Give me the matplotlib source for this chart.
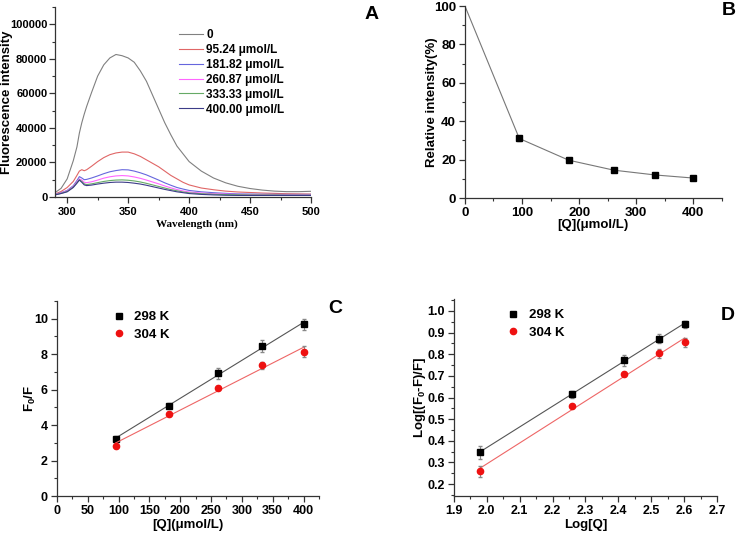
import matplotlib
matplotlib.use('Agg')
import matplotlib.pyplot as plt
import numpy as np
from matplotlib.ticker import MultipleLocator

plt.rcParams['font.family'] = ['Liberation Sans', 'DejaVu Sans']
plt.rcParams['font.weight'] = 'bold'
plt.rcParams['mathtext.fontset'] = 'custom'
plt.rcParams['mathtext.rm'] = 'Liberation Sans:bold'
plt.rcParams['mathtext.default'] = 'rm'

# ---- panel A: emission spectra ----
wl = [290, 295, 300, 305, 308, 310, 312, 314, 316, 320, 325, 330, 335, 340, 345, 350,
      355, 360, 365, 370, 375, 380, 385, 390, 395, 400, 410, 420, 430, 440, 450, 460,
      470, 480, 490, 500]
sp_0 = [2500, 5000, 10500, 21000, 29000, 37000, 43000, 48000, 52500, 60500, 70000, 76500,
        80500, 82500, 81800, 80500, 78000, 73000, 67000, 59000, 51000, 43000, 36000, 29500,
        25000, 20500, 15000, 11000, 8200, 6200, 4900, 4000, 3400, 3100, 3100, 3300]
sp_95 = [1700, 3200, 5500, 9000, 12500, 15000, 15800, 15200, 15800, 17800, 20500, 22800,
         24500, 25500, 26000, 26000, 25000, 23500, 21500, 19500, 17500, 15000, 12500, 10500,
         8500, 7000, 5200, 4200, 3400, 2900, 2600, 2300, 2100, 1900, 1800, 1700]
sp_181 = [1500, 2500, 3800, 6500, 9500, 11800, 11000, 10000, 10200, 11000, 12200, 13500,
          14600, 15300, 15800, 15700, 15000, 14000, 12800, 11300, 9800, 8200, 6800, 5500,
          4600, 3800, 3000, 2500, 2100, 1800, 1700, 1600, 1550, 1500, 1500, 1500]
sp_260 = [1400, 2300, 3500, 6000, 8700, 10500, 9800, 8500, 8300, 8800, 9800, 10900,
          11700, 12200, 12400, 12200, 11600, 10800, 9800, 8700, 7600, 6400, 5300, 4300,
          3500, 2900, 2300, 1900, 1700, 1500, 1400, 1400, 1300, 1300, 1300, 1300]
sp_333 = [1300, 2100, 3200, 5700, 8200, 10000, 9000, 7600, 7200, 7600, 8300, 9000,
          9500, 9800, 9900, 9700, 9300, 8700, 7900, 7000, 6100, 5200, 4300, 3600,
          2900, 2400, 1900, 1600, 1400, 1300, 1200, 1200, 1200, 1100, 1100, 1100]
sp_400 = [1200, 2000, 3000, 5500, 8000, 9800, 8500, 7000, 6600, 6900, 7500, 8000,
          8400, 8600, 8600, 8400, 8000, 7500, 6800, 6000, 5200, 4400, 3700, 3000,
          2500, 2000, 1500, 1200, 1000, 900, 900, 900, 900, 900, 900, 900]
sp_labels = ['0', '95.24 μmol/L', '181.82 μmol/L', '260.87 μmol/L', '333.33 μmol/L', '400.00 μmol/L']
sp_colors = ['#808080', '#e06666', '#6666dd', '#ff66ff', '#66aa66', '#3c3c88']

# ---- panel B ----
conc = [0, 95.24, 181.82, 260.87, 333.33, 400]
rel_int = [100, 31.0, 19.7, 14.5, 12.0, 10.4]
rel_err = [0, 1.5, 0.8, 0.6, 0.6, 0.5]

# ---- panel C: Stern-Volmer ----
q = [95.24, 181.82, 260.87, 333.33, 400]
f0f_298 = [3.22, 5.10, 6.92, 8.45, 9.68]
f0f_298_err = [0.15, 0.15, 0.30, 0.35, 0.30]
f0f_304 = [2.82, 4.62, 6.08, 7.37, 8.15]
f0f_304_err = [0.10, 0.10, 0.10, 0.20, 0.30]

# ---- panel D: double log ----
logq = [1.979, 2.260, 2.416, 2.523, 2.602]
dl_298 = [0.348, 0.614, 0.771, 0.872, 0.938]
dl_298_err = [0.030, 0.015, 0.025, 0.020, 0.015]
dl_304 = [0.260, 0.560, 0.708, 0.804, 0.855]
dl_304_err = [0.025, 0.010, 0.010, 0.020, 0.020]

fig = plt.figure(figsize=(7.38, 5.33), dpi=100)

def style(ax, fs, pad=2.5):
    for s in ['top', 'right']:
        ax.spines[s].set_visible(False)
    for s in ['left', 'bottom']:
        ax.spines[s].set_color('#333333')
        ax.spines[s].set_linewidth(0.9)
    ax.tick_params(which='major', direction='out', length=4, width=0.9, labelsize=fs,
                   colors='#333333', pad=pad)
    ax.tick_params(which='minor', direction='out', length=2, width=0.8, colors='#333333')
    for t in ax.get_xticklabels() + ax.get_yticklabels():
        t.set_color('black')
        t.set_fontweight('bold')

# A
axA = fig.add_axes([0.0745, 0.6304, 0.347, 0.3565])
for y, lab, c in zip([sp_0, sp_95, sp_181, sp_260, sp_333, sp_400], sp_labels, sp_colors):
    axA.plot(wl, y, color=c, lw=0.8, label=lab)
axA.set_xlim(290, 500)
axA.set_ylim(0, 110000)
axA.xaxis.set_major_locator(MultipleLocator(50))
axA.xaxis.set_minor_locator(MultipleLocator(25))
axA.yaxis.set_major_locator(MultipleLocator(20000))
axA.yaxis.set_minor_locator(MultipleLocator(10000))
style(axA, 8, pad=1.5)
axA.tick_params(axis='x', pad=3.5)
axA.set_ylabel('Fluorescence intensity', fontsize=9.5, fontweight='bold', va='center')
axA.yaxis.set_label_coords(-0.188, 0.5)
axA.set_xlabel('Wavelength (nm)', fontsize=8, fontweight='bold', family='Liberation Serif')
axA.xaxis.set_label_coords(0.555, -0.12)
axA.legend(loc='upper left', bbox_to_anchor=(0.467, 0.91), frameon=False, fontsize=8.5,
           handlelength=2.0, handletextpad=0.3, labelspacing=0.25, borderaxespad=0)
fig.text(0.503, 0.972, 'A', fontsize=14, fontweight='bold', ha='center', va='center')

# B
axB = fig.add_axes([0.630, 0.6285, 0.348, 0.3602])
axB.plot(conc, rel_int, color='#777777', lw=0.8)
axB.errorbar(conc[1:], rel_int[1:], yerr=rel_err[1:], fmt='s', ms=4,
             mfc='black', mec='black', ecolor='#888888', elinewidth=0.8, capsize=1.5)
axB.set_xlim(0, 450)
axB.set_ylim(0, 100)
axB.xaxis.set_major_locator(MultipleLocator(100))
axB.xaxis.set_minor_locator(MultipleLocator(50))
axB.yaxis.set_major_locator(MultipleLocator(20))
axB.yaxis.set_minor_locator(MultipleLocator(10))
style(axB, 9.5)
axB.set_ylabel('Relative intensity(%)', fontsize=9.5, fontweight='bold', va='center')
axB.yaxis.set_label_coords(-0.128, 0.5)
axB.set_xlabel('[Q](μmol/L)', fontsize=9.5, fontweight='bold')
axB.xaxis.set_label_coords(0.5, -0.11)
fig.text(0.987, 0.981, 'B', fontsize=14, fontweight='bold', ha='center', va='center')

# C
axC = fig.add_axes([0.0772, 0.0694, 0.355, 0.3659])
for y, e, m, c, lc, lab in [(f0f_298, f0f_298_err, 's', 'black', '#555555', '298 K'),
                            (f0f_304, f0f_304_err, 'o', '#ee1111', '#ee6666', '304 K')]:
    k, b = np.polyfit(q, y, 1)
    xx = np.array([q[0], q[-1]])
    axC.plot(xx, k * xx + b, color=lc, lw=0.8)
    axC.errorbar(q, y, yerr=e, fmt='none', ecolor='#888888', elinewidth=0.8, capsize=1.5)
    axC.plot(q, y, m, ms=4.5, mfc=c, mec=c, label=lab)
axC.set_xlim(0, 425)
axC.set_ylim(0, 11)
axC.xaxis.set_major_locator(MultipleLocator(50))
axC.xaxis.set_minor_locator(MultipleLocator(25))
axC.yaxis.set_major_locator(MultipleLocator(2))
axC.yaxis.set_minor_locator(MultipleLocator(1))
style(axC, 9)
axC.set_ylabel('F$_0$/F', fontsize=9.5, fontweight='bold', va='center')
axC.yaxis.set_label_coords(-0.103, 0.5)
axC.set_xlabel('[Q](μmol/L)', fontsize=9.5, fontweight='bold')
axC.xaxis.set_label_coords(0.5, -0.12)
axC.legend(loc='upper left', bbox_to_anchor=(0.19, 0.975), frameon=False, fontsize=9.5,
           handlelength=1, handletextpad=0.7, labelspacing=0.4, borderaxespad=0)
fig.text(0.454, 0.422, 'C', fontsize=14, fontweight='bold', ha='center', va='center')

# D
axD = fig.add_axes([0.615, 0.0694, 0.3565, 0.3696])
for y, e, m, c, lc, lab in [(dl_298, dl_298_err, 's', 'black', '#555555', '298 K'),
                            (dl_304, dl_304_err, 'o', '#ee1111', '#ee6666', '304 K')]:
    k, b = np.polyfit(logq, y, 1)
    xx = np.array([logq[0], logq[-1]])
    axD.plot(xx, k * xx + b, color=lc, lw=0.8)
    axD.errorbar(logq, y, yerr=e, fmt='none', ecolor='#888888', elinewidth=0.8, capsize=1.5)
    axD.plot(logq, y, m, ms=4.5, mfc=c, mec=c, label=lab)
axD.set_xlim(1.9, 2.7)
axD.set_ylim(0.145, 1.055)
axD.xaxis.set_major_locator(MultipleLocator(0.1))
axD.xaxis.set_minor_locator(MultipleLocator(0.05))
axD.yaxis.set_major_locator(MultipleLocator(0.1))
axD.yaxis.set_minor_locator(MultipleLocator(0.05))
style(axD, 9)
axD.set_ylabel('Log[(F$_0$-F)/F]', fontsize=9.5, fontweight='bold', va='center')
axD.yaxis.set_label_coords(-0.129, 0.5)
axD.set_xlabel('Log[Q]', fontsize=9.5, fontweight='bold')
axD.xaxis.set_label_coords(0.5, -0.115)
axD.legend(loc='upper left', bbox_to_anchor=(0.18, 0.975), frameon=False, fontsize=9.5,
           handlelength=1, handletextpad=0.7, labelspacing=0.4, borderaxespad=0)
fig.text(0.986, 0.409, 'D', fontsize=14, fontweight='bold', ha='center', va='center')

fig.savefig('out.png', dpi=100)
